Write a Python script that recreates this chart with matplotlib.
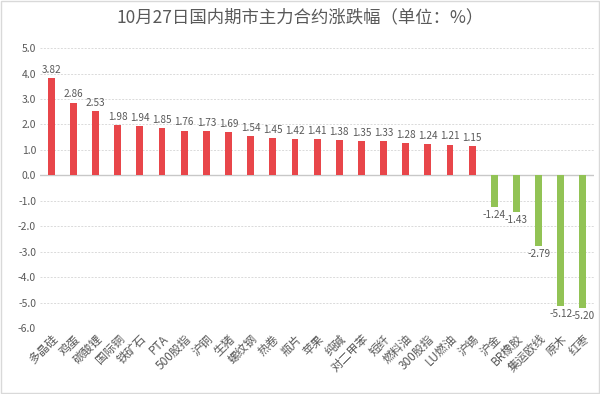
import matplotlib
matplotlib.use('Agg')
import matplotlib.pyplot as plt
from matplotlib.patches import Rectangle

plt.rcParams['font.family'] = ['Noto Sans CJK SC', 'DejaVu Sans']

names = ['多晶硅', '鸡蛋', '碳酸锂', '国际铜', '铁矿石', 'PTA', '500股指', '沪铜', '生猪',
         '螺纹钢', '热卷', '瓶片', '苹果', '纯碱', '对二甲苯', '短纤', '燃料油', '300股指',
         'LU燃油', '沪锡', '沪金', 'BR橡胶', '集运欧线', '原木', '红枣']
changes = [3.82, 2.86, 2.53, 1.98, 1.94, 1.85, 1.76, 1.73, 1.69, 1.54, 1.45, 1.42, 1.41,
           1.38, 1.35, 1.33, 1.28, 1.24, 1.21, 1.15, -1.24, -1.43, -2.79, -5.12, -5.20]
yticks = [5.0, 4.0, 3.0, 2.0, 1.0, 0.0, -1.0, -2.0, -3.0, -4.0, -5.0, -6.0]

red = '#E8464A'
green = '#92C355'
grey = '#595959'

fig = plt.figure(figsize=(6, 3.94), dpi=100)
fig.patches.append(Rectangle((0.002, 0.002), 0.996, 0.996, transform=fig.transFigure,
                             fill=False, edgecolor='#D9D9D9', linewidth=1))
ax = fig.add_axes([0.067, 0.1675, 0.923, 0.7105])

x = list(range(len(names)))
colors = [red if v > 0 else green for v in changes]
ax.bar(x, changes, width=0.31, color=colors, zorder=3)

for i, v in enumerate(changes):
    if v > 0:
        ax.text(i, v + 0.12, '%.2f' % v, ha='center', va='bottom', fontsize=7.2, color=grey)
    else:
        ax.text(i, v - 0.12, '%.2f' % v, ha='center', va='top', fontsize=7.2, color=grey)

ax.set_xlim(-0.5, len(names) - 0.5)
ax.set_ylim(-6.0, 5.0)
ax.set_yticks(yticks)
ax.set_yticklabels(['%.1f' % t for t in yticks], fontsize=7.5, color=grey)
ax.yaxis.grid(True, color='#DADADA', linestyle=(0, (2, 1.5)), linewidth=0.7, zorder=0)
ax.axhline(0, color='#C8C8C8', linewidth=1, zorder=2)

ax.set_xticks(x)
ax.set_xticklabels(names, rotation=45, ha='right', rotation_mode='anchor', fontsize=8.5,
                   color=grey)
ax.tick_params(axis='both', length=0, pad=3)
for s in ax.spines.values():
    s.set_visible(False)

fig.text(0.5, 0.955, '10月27日国内期市主力合约涨跌幅（单位：%）', ha='center', va='center',
         fontsize=12.5, color=grey)

fig.savefig('out.png', dpi=100)
